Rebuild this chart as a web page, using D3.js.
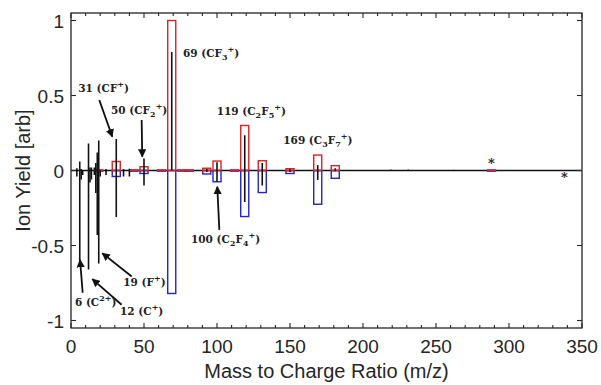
<!DOCTYPE html>
<html>
<head>
<meta charset="utf-8">
<script src="https://cdn.jsdelivr.net/npm/d3@7/dist/d3.min.js"></script>
<style>
  body { margin: 0; background: #fff; }
  svg { display: block; }
  .tick-label { font-family: "Liberation Sans", Arial, sans-serif; font-size: 19px; fill: #262626; }
  .axis-title { font-family: "Liberation Sans", Arial, sans-serif; font-size: 20px; fill: #262626; }
  .note { font-family: "DejaVu Serif", serif; font-weight: bold; font-size: 10.5px; fill: #222; }
</style>
</head>
<body>
<div id="root"></div>
<script>
// measured spectrum, upper half (m/z, yield)
const upMass  = [4, 6, 7, 12, 13, 14, 16, 17, 18, 19, 24, 31, 36, 40, 50, 69, 93, 100, 119, 131, 150, 169, 181, 200, 219, 231, 250, 262];
const upYield = [0.015, 0.06, 0.01, 0.18, 0.02, 0.02, 0.02, 0.05, 0.12, 0.20, 0.01, 0.21, 0.01, 0.012, 0.08, 0.79, 0.01, 0.055, 0.235, 0.05, 0.008, 0.036, 0.015, 0.004, 0.006, 0.006, 0.004, 0.004];

// measured spectrum, lower half (mirrored)
const downMass  = [4, 6, 7, 8, 12, 13, 14, 16, 17, 18, 19, 20, 24, 31, 36, 40, 50, 93, 100, 119, 131, 150, 169, 181];
const downYield = [-0.04, -0.61, -0.06, -0.03, -0.66, -0.08, -0.06, -0.03, -0.15, -0.43, -0.62, -0.04, -0.03, -0.31, -0.04, -0.04, -0.10, -0.01, -0.075, -0.21, -0.10, -0.01, -0.063, -0.005];

// reference yields drawn as boxes
const refMass = [19, 31, 43, 50, 62, 69, 76, 81, 93, 100, 112, 119, 131, 150, 169, 181, 288];
const refUp   = [0.004, 0.06, 0.004, 0.025, 0.004, 1.0, 0.004, 0.004, 0.015, 0.063, 0.004, 0.30, 0.065, 0.012, 0.103, 0.032, 0.004];
const refDown = [-0.004, -0.04, -0.004, -0.02, -0.004, -0.82, -0.004, -0.004, -0.023, -0.075, -0.004, -0.307, -0.147, -0.02, -0.225, -0.052, -0.004];

const xTicks = [0, 50, 100, 150, 200, 250, 300, 350];
const xMinor = d3.range(0, 351, 10);
const yTicks = [-1, -0.5, 0, 0.5, 1];

// labels: [m/z, yield, number, main, sub, sup]
const notes = [
  [76.7, 0.757, "69", "CF", "3", "+"],
  [5.0, 0.524, "31", "CF", "", "+"],
  [27.4, 0.38, "50", "CF", "2", "+"],
  [99.8, 0.369, "119", "C", "2", "F5+"],
  [145.4, 0.174, "169", "C", "3", "F7+"],
  [82.2, -0.485, "100", "C", "2", "F4+"],
  [35.8, -0.773, "19", "F", "", "+"],
  [2.7, -0.906, "6", "C", "", "2+"],
  [33.6, -0.962, "12", "C", "", "+"]
];

// arrows: from (m/z, yield) to (m/z, yield)
const arrows = [
  [19.4, 0.469, 28.3, 0.225],
  [48.4, 0.336, 48.8, 0.092],
  [8.0, -0.815, 6.2, -0.596],
  [34.7, -0.895, 14.6, -0.724],
  [41.6, -0.707, 21.4, -0.551],
  [101.6, -0.396, 100.2, -0.108]
];

const stars = [[288, 0.05], [338, -0.043]];

const W = 601, H = 385;
const svg = d3.select("#root").append("svg").attr("width", W).attr("height", H);

const x = d3.scaleLinear().domain([0, 350]).range([71, 582]);
const y = d3.scaleLinear().domain([-1.05, 1.05]).range([328, 13]);

svg.append("defs").append("marker")
  .attr("id", "head")
  .attr("viewBox", "0 0 10 10")
  .attr("refX", 9).attr("refY", 5)
  .attr("markerWidth", 4.6).attr("markerHeight", 4.6)
  .attr("orient", "auto")
  .append("path").attr("d", "M0,0L10,5L0,10z").attr("fill", "#111");

const plot = svg.append("g");

// zero line
plot.append("line")
  .attr("x1", x(0)).attr("x2", x(350))
  .attr("y1", y(0)).attr("y2", y(0))
  .attr("stroke", "#111").attr("stroke-width", 1.4);

// reference boxes
const boxW = 5.5;
const drawBoxes = (vals, col) => {
  plot.append("g").selectAll("rect")
    .data(refMass.map((m, i) => ({ m: m, v: vals[i] })))
    .enter()
    .append("rect")
    .attr("x", d => x(d.m - boxW / 2))
    .attr("width", d => x(d.m + boxW / 2) - x(d.m - boxW / 2))
    .attr("y", d => Math.min(y(d.v), y(0)))
    .attr("height", d => Math.abs(y(d.v) - y(0)))
    .attr("fill", "none")
    .attr("stroke", col)
    .attr("stroke-width", 1.4);
};
drawBoxes(refDown, "#2323c8");
drawBoxes(refUp, "#d92323");

// measured sticks
const drawSticks = (mass, vals) => {
  plot.append("g").selectAll("line")
    .data(mass.map((m, i) => ({ m: m, v: vals[i] })))
    .enter()
    .append("line")
    .attr("x1", d => x(d.m)).attr("x2", d => x(d.m))
    .attr("y1", y(0)).attr("y2", d => y(d.v))
    .attr("stroke", "#111")
    .attr("stroke-width", 1.6);
};
drawSticks(upMass, upYield);
drawSticks(downMass, downYield);

// stars
plot.selectAll(".star")
  .data(stars)
  .enter()
  .append("text")
  .attr("class", "note")
  .attr("x", d => x(d[0]))
  .attr("y", d => y(d[1]) + 5)
  .attr("text-anchor", "middle")
  .style("font-size", "13px")
  .text("*");

// arrows
plot.append("g").selectAll("line")
  .data(arrows)
  .enter()
  .append("line")
  .attr("x1", d => x(d[0])).attr("y1", d => y(d[1]))
  .attr("x2", d => x(d[2])).attr("y2", d => y(d[3]))
  .attr("stroke", "#111")
  .attr("stroke-width", 1.8)
  .attr("marker-end", "url(#head)");

// annotation texts
notes.forEach(n => {
  let t = plot.append("text")
    .attr("class", "note")
    .attr("x", x(n[0]))
    .attr("y", y(n[1]));
  t.append("tspan").text(n[2] + " (" + n[3]);
  if (n[4]) {
    t.append("tspan").attr("dy", 3).style("font-size", "8px").text(n[4]);
    let rest = n[5];
    if (rest.length > 1 && rest[0] === "F") {
      t.append("tspan").attr("dy", -3).text("F");
      t.append("tspan").attr("dy", 3).style("font-size", "8px").text(rest[1]);
      t.append("tspan").attr("dy", -8).style("font-size", "8px").text("+");
      t.append("tspan").attr("dy", 5).text(")");
    } else {
      t.append("tspan").attr("dy", -8).style("font-size", "8px").text(rest);
      t.append("tspan").attr("dy", 5).text(")");
    }
  } else {
    t.append("tspan").attr("dy", -5).style("font-size", "8px").text(n[5]);
    t.append("tspan").attr("dy", 5).text(")");
  }
});

// axes box
const axisCol = "#262626";
svg.append("rect")
  .attr("x", x(0)).attr("y", y(1.05))
  .attr("width", x(350) - x(0)).attr("height", y(-1.05) - y(1.05))
  .attr("fill", "none").attr("stroke", axisCol).attr("stroke-width", 1.3);

const ticks = svg.append("g").attr("stroke", axisCol).attr("stroke-width", 1.1);
xMinor.forEach(v => {
  let len = xTicks.includes(v) ? 5 : 3;
  ticks.append("line").attr("x1", x(v)).attr("x2", x(v)).attr("y1", y(-1.05)).attr("y2", y(-1.05) - len);
  ticks.append("line").attr("x1", x(v)).attr("x2", x(v)).attr("y1", y(1.05)).attr("y2", y(1.05) + len);
});
yTicks.forEach(v => {
  ticks.append("line").attr("x1", x(0)).attr("x2", x(0) + 5).attr("y1", y(v)).attr("y2", y(v));
  ticks.append("line").attr("x1", x(350)).attr("x2", x(350) - 5).attr("y1", y(v)).attr("y2", y(v));
});

svg.append("g").selectAll("text")
  .data(xTicks)
  .enter()
  .append("text")
  .attr("class", "tick-label")
  .attr("x", d => x(d))
  .attr("y", 353)
  .attr("text-anchor", "middle")
  .text(d => d);

svg.append("g").selectAll("text")
  .data(yTicks)
  .enter()
  .append("text")
  .attr("class", "tick-label")
  .attr("x", x(0) - 7)
  .attr("y", d => y(d) + 7)
  .attr("text-anchor", "end")
  .text(d => String(d));

svg.append("text")
  .attr("class", "axis-title")
  .attr("x", (x(0) + x(350)) / 2)
  .attr("y", 378)
  .attr("text-anchor", "middle")
  .text("Mass to Charge Ratio (m/z)");

svg.append("text")
  .attr("class", "axis-title")
  .attr("transform", "translate(30," + ((y(1.05) + y(-1.05)) / 2) + ") rotate(-90)")
  .attr("text-anchor", "middle")
  .text("Ion Yield [arb]");
</script>
</body>
</html>
